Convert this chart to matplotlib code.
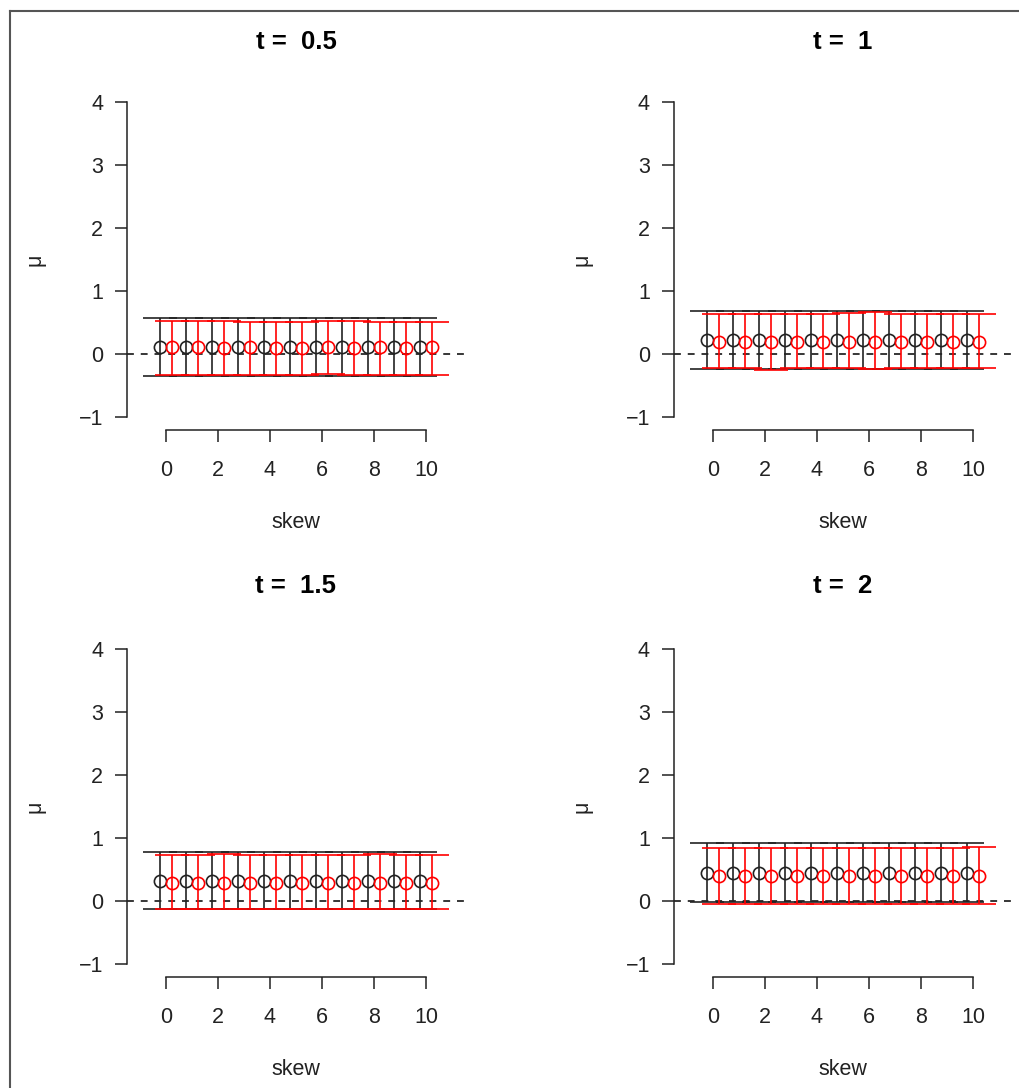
import matplotlib
matplotlib.use("Agg")
import matplotlib.pyplot as plt
from matplotlib.lines import Line2D
import numpy as np

plt.rcParams['font.family'] = ['Liberation Sans', 'DejaVu Sans']

skew = np.arange(0, 11)
titles = ["t =  0.5", "t =  1", "t =  1.5", "t =  2"]

# black series (mean, lower, upper) per panel
black_mean = [
    [0.11]*11,
    [0.22]*11,
    [0.32]*11,
    [0.44]*11,
]
black_low = [
    [-0.35]*11,
    [-0.24]*11,
    [-0.13]*11,
    [-0.01]*11,
]
black_up = [
    [0.57]*11,
    [0.69]*11,
    [0.78]*11,
    [0.92]*11,
]
# red series
red_mean = [
    [0.11, 0.11, 0.10, 0.11, 0.10, 0.10, 0.11, 0.10, 0.11, 0.10, 0.11],
    [0.19, 0.19, 0.19, 0.19, 0.19, 0.19, 0.19, 0.19, 0.19, 0.19, 0.19],
    [0.29, 0.29, 0.29, 0.29, 0.29, 0.29, 0.29, 0.29, 0.29, 0.29, 0.29],
    [0.39, 0.39, 0.39, 0.39, 0.39, 0.39, 0.39, 0.39, 0.39, 0.40, 0.39],
]
red_low = [
    [-0.33, -0.33, -0.33, -0.33, -0.33, -0.33, -0.32, -0.33, -0.33, -0.33, -0.33],
    [-0.22, -0.22, -0.25, -0.23, -0.22, -0.22, -0.24, -0.22, -0.22, -0.22, -0.22],
    [-0.12, -0.12, -0.13, -0.12, -0.12, -0.12, -0.13, -0.12, -0.12, -0.12, -0.12],
    [-0.05, -0.05, -0.05, -0.05, -0.05, -0.05, -0.05, -0.05, -0.05, -0.05, -0.05],
]
red_up = [
    [0.53, 0.53, 0.53, 0.51, 0.51, 0.51, 0.53, 0.53, 0.51, 0.51, 0.51],
    [0.63, 0.63, 0.63, 0.63, 0.63, 0.65, 0.66, 0.63, 0.64, 0.64, 0.63],
    [0.73, 0.73, 0.75, 0.73, 0.73, 0.73, 0.73, 0.73, 0.75, 0.73, 0.73],
    [0.84, 0.84, 0.84, 0.84, 0.84, 0.84, 0.84, 0.84, 0.84, 0.84, 0.86],
]

xticks = [0, 2, 4, 6, 8, 10]
yticks = [-1, 0, 1, 2, 3, 4]

W, H = 1019, 1088
fig = plt.figure(figsize=(W/100, H/100), dpi=100)

positions = [
    [127.5/W, (H-429.6)/H, 341/W, 340.2/H],
    [674.4/W, (H-429.6)/H, 341/W, 340.2/H],
    [127.5/W, (H-976.6)/H, 341/W, 340.2/H],
    [674.4/W, (H-976.6)/H, 341/W, 340.2/H],
]
title_y = [1.139, 1.139, 1.148, 1.148]

off = 0.22
xmax = -1.48 + 341/26.0
for i in range(4):
    ax = fig.add_axes(positions[i])
    ax.set_xlim(-1.48, xmax)
    ax.set_ylim(-1.2, 4.2)
    ax.axhline(0, color='black', lw=1.1, dashes=(4.5, 4.5), zorder=1)
    bm = np.array(black_mean[i]); bl = np.array(black_low[i]); bu = np.array(black_up[i])
    rm = np.array(red_mean[i]); rl = np.array(red_low[i]); ru = np.array(red_up[i])
    ax.errorbar(skew - off, bm, yerr=[bm - bl, bu - bm], fmt='o', color='#222222',
                mfc='none', mec='#222222', ms=8.8, mew=1.2, ecolor='#222222',
                elinewidth=1.2, capsize=12, capthick=1.6, zorder=2)
    ax.errorbar(skew + off, rm, yerr=[rm - rl, ru - rm], fmt='o', color='red',
                mfc='none', mec='red', ms=8.8, mew=1.2, ecolor='red',
                elinewidth=1.2, capsize=12, capthick=1.6, zorder=3)
    for s in ['top', 'right']:
        ax.spines[s].set_visible(False)
    ax.spines['left'].set_bounds(-1, 4)
    ax.spines['bottom'].set_bounds(0, 10)
    for s in ['left', 'bottom']:
        ax.spines[s].set_linewidth(1.1)
        ax.spines[s].set_color('#222222')
    ax.set_xticks(xticks)
    ax.set_yticks(yticks)
    ax.set_xticklabels([str(v) for v in xticks])
    ax.set_yticklabels(['\u22121' if v < 0 else str(v) for v in yticks])
    ax.tick_params(axis='both', length=8.6, width=1.1, color='#222222',
                   labelsize=15.5, labelcolor='#222222')
    ax.tick_params(axis='x', pad=13)
    ax.tick_params(axis='y', pad=9)
    ax.set_xlabel('skew', fontsize=15.5, color='#222222', va='center')
    ax.xaxis.set_label_coords(0.494, -0.273)
    ax.set_ylabel('\u03bc', fontsize=15.5, color='#222222', va='center')
    ax.yaxis.set_label_coords(-0.272, 0.5)
    ax.set_title(titles[i], fontsize=18.5, fontweight='bold', x=0.494, y=title_y[i],
                 pad=0, va='center')

# screenshot frame
fig.add_artist(Line2D([9.5/W, 9.5/W], [0, 1 - 11/H], transform=fig.transFigure,
                      color='#555555', lw=1.5))
fig.add_artist(Line2D([9.5/W, 1], [1 - 11/H, 1 - 11/H], transform=fig.transFigure,
                      color='#555555', lw=1.5))

fig.savefig('out.png', dpi=100)
